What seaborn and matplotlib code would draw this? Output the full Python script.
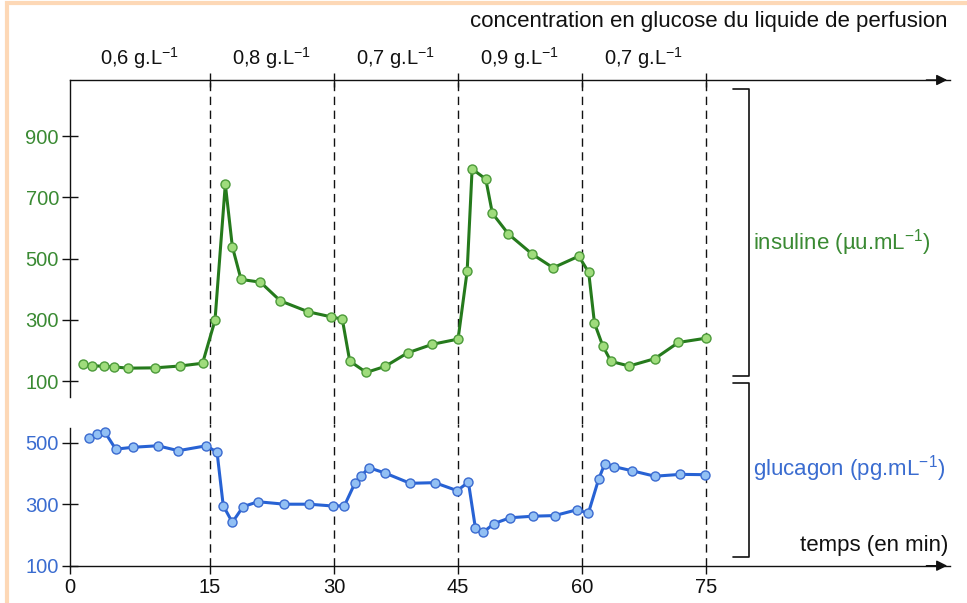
import numpy as np
import pandas as pd
import matplotlib
matplotlib.use("Agg")
import matplotlib.pyplot as plt
from matplotlib.lines import Line2D
from matplotlib.patches import Rectangle
import seaborn as sns

# --- data (time in min) ---
ins_time = [1.4, 2.4, 3.6, 4.75, 6.2, 9.1, 11.75, 14.2, 15.6, 16.85, 17.7, 18.75,
            21.1, 23.5, 26.9, 29.6, 31.0, 31.9, 33.9, 36.2, 38.9, 41.9, 45.0,
            46.1, 46.7, 48.35, 49.15, 51.1, 54.0, 56.5, 59.6, 60.8, 61.5, 62.5,
            63.5, 65.7, 68.8, 71.65, 75.0]
ins_vals = [155, 150, 148, 146, 142, 143, 149, 158, 298, 743, 539, 432,
            423, 362, 326, 310, 302, 165, 128, 148, 192, 220, 237,
            459, 793, 760, 648, 580, 514, 470, 508, 455, 289, 215,
            164, 149, 173, 226, 240]

glu_time = [2.0, 2.9, 3.7, 4.9, 6.7, 9.4, 11.6, 14.6, 15.85, 16.6, 17.7, 19.0,
            20.8, 24.0, 27.0, 29.9, 31.25, 32.55, 33.3, 34.2, 36.2, 39.2, 42.2,
            44.9, 46.25, 47.1, 48.05, 49.35, 51.3, 54.1, 56.7, 59.4, 60.75, 62.0,
            62.75, 63.9, 66.0, 68.8, 71.9, 74.9]
glu_vals = [514, 528, 536, 479, 485, 490, 474, 490, 469, 295, 241, 292,
            308, 300, 300, 294, 295, 370, 392, 419, 401, 368, 370,
            344, 372, 222, 209, 237, 256, 261, 263, 282, 270, 381,
            432, 422, 409, 391, 397, 396]

segment_bounds = [0, 15, 30, 45, 60, 75]
conc_labels = ["0,6", "0,8", "0,7", "0,9", "0,7"]
ins_ticks = [100, 300, 500, 700, 900]
glu_ticks = [100, 300, 500]

GREEN_LINE = "#257a1c"
GREEN_FACE = "#9fdc7c"
GREEN_TEXT = "#3a8a33"
BLUE_LINE = "#2762d4"
BLUE_FACE = "#92c0f4"
BLUE_TEXT = "#3a6cd0"
PEACH = "#fdd8b6"
INK = "#111111"

sns.set_style("ticks")
plt.rcParams["font.family"] = ["Liberation Sans", "DejaVu Sans"]
plt.rcParams["mathtext.fontset"] = "custom"
plt.rcParams["mathtext.rm"] = "Liberation Sans"
plt.rcParams["mathtext.default"] = "regular"

W, H = 967, 603
fig = plt.figure(figsize=(W / 100, H / 100), dpi=100)


def px(x0, y0, x1, y1):
    # pixel box (top-left origin) -> figure fraction rect
    return [x0 / W, 1 - y1 / H, (x1 - x0) / W, (y1 - y0) / H]


ax_ins = fig.add_axes(px(70, 80, 950, 424))
ax_glu = fig.add_axes(px(70, 424, 950, 565.7))

# first 15 min are drawn a bit wider on the original
k = 140 / 124


def fwd(t):
    t = np.asarray(t, float)
    return np.where(t < 15, t * k, t + 15 * (k - 1))


def inv(u):
    u = np.asarray(u, float)
    return np.where(u < 15 * k, u / k, u - 15 * (k - 1))


for ax in (ax_ins, ax_glu):
    ax.set_xscale("function", functions=(fwd, inv))
    ax.set_xlim(0, 104.5)
    ax.patch.set_alpha(0)
    for x in segment_bounds[1:]:
        ax.axvline(x, color=INK, lw=1.0, ls=(0, (6, 4)), zorder=1)

ins_df = pd.DataFrame({"t": ins_time, "v": ins_vals})
glu_df = pd.DataFrame({"t": glu_time, "v": glu_vals})

sns.lineplot(data=ins_df, x="t", y="v", ax=ax_ins, color=GREEN_LINE, lw=2.2,
             marker="o", markersize=6.5, markerfacecolor=GREEN_FACE,
             markeredgecolor="#4c9a3a", markeredgewidth=1, zorder=3)
sns.lineplot(data=glu_df, x="t", y="v", ax=ax_glu, color=BLUE_LINE, lw=2.2,
             marker="o", markersize=6.5, markerfacecolor=BLUE_FACE,
             markeredgecolor="#3a6ad0", markeredgewidth=1, zorder=3)

# insulin axes (top)
ax_ins.set_ylim(-40.5, 1083.7)
ax_ins.spines["right"].set_visible(False)
ax_ins.spines["bottom"].set_visible(False)
ax_ins.spines["left"].set_bounds(48, 1083.7)
ax_ins.xaxis.tick_top()
ax_ins.set_xticks(segment_bounds[1:])
ax_ins.tick_params(axis="x", top=True, bottom=False, labeltop=False,
                   labelbottom=False, direction="inout", length=10, width=1,
                   color=INK)
ax_ins.set_yticks(ins_ticks)
ax_ins.tick_params(axis="y", left=True, direction="inout", length=12, width=1,
                   pad=2, labelsize=14.5, labelcolor=GREEN_TEXT, color=INK)
ax_ins.set_xlabel("")
ax_ins.set_ylabel("")

# glucagon axes (bottom)
ax_glu.set_ylim(100, 560.8)
ax_glu.spines["right"].set_visible(False)
ax_glu.spines["top"].set_visible(False)
ax_glu.spines["left"].set_bounds(100, 548)
ax_glu.set_xticks(segment_bounds)
ax_glu.set_xticklabels([str(s) for s in segment_bounds])
ax_glu.tick_params(axis="x", bottom=True, direction="out", length=6, width=1,
                   labelsize=14.5, pad=3, color=INK, labelcolor=INK)
ax_glu.set_yticks(glu_ticks)
ax_glu.tick_params(axis="y", left=True, direction="inout", length=12, width=1,
                   pad=2, labelsize=14.5, labelcolor=BLUE_TEXT, color=INK)
ax_glu.set_xlabel("")
ax_glu.set_ylabel("")

for ax in (ax_ins, ax_glu):
    for s in ax.spines.values():
        s.set_color(INK)
        s.set_linewidth(1.0)

# arrow heads on both time axes
ax_ins.annotate("", xy=(1, 1), xytext=(0.97, 1), xycoords="axes fraction",
                arrowprops=dict(arrowstyle="-|>", color=INK, lw=1,
                                mutation_scale=16))
ax_glu.annotate("", xy=(1, 0), xytext=(0.97, 0), xycoords="axes fraction",
                arrowprops=dict(arrowstyle="-|>", color=INK, lw=1,
                                mutation_scale=16))

# concentration labels between the dashed lines
for a, b, lab in zip(segment_bounds[:-1], segment_bounds[1:], conc_labels):
    ax_ins.annotate(lab + r" g.L$^{-1}$", xy=((a + b) / 2, 1),
                    xycoords=("data", "axes fraction"), xytext=(0, 16),
                    textcoords="offset points", ha="center", va="center",
                    fontsize=14.5, color=INK)

fig.text(948 / W, 1 - 22 / H, "concentration en glucose du liquide de perfusion",
         ha="right", va="center", fontsize=16, color=INK)
fig.text(948 / W, 1 - 545 / H, "temps (en min)", ha="right", va="center",
         fontsize=16, color=INK)
fig.text(753 / W, 1 - 243 / H, r"insuline (µu.mL$^{-1}$)", ha="left",
         va="center", fontsize=16, color=GREEN_TEXT)
fig.text(753 / W, 1 - 469 / H, r"glucagon (pg.mL$^{-1}$)", ha="left",
         va="center", fontsize=16, color=BLUE_TEXT)


# brackets on the right
def bracket(y0, y1):
    xs = [733 / W, 749 / W, 749 / W, 733 / W]
    ys = [1 - y0 / H, 1 - y0 / H, 1 - y1 / H, 1 - y1 / H]
    fig.add_artist(Line2D(xs, ys, color=INK, lw=1.2))


bracket(89, 376)
bracket(383, 557)

# peach frame of the page
fig.add_artist(Rectangle((7 / W, -0.2), 1.5, 1.2 - 3 / H, fill=False,
                         edgecolor=PEACH, lw=3, transform=fig.transFigure))

fig.savefig("out.png", dpi=100)
